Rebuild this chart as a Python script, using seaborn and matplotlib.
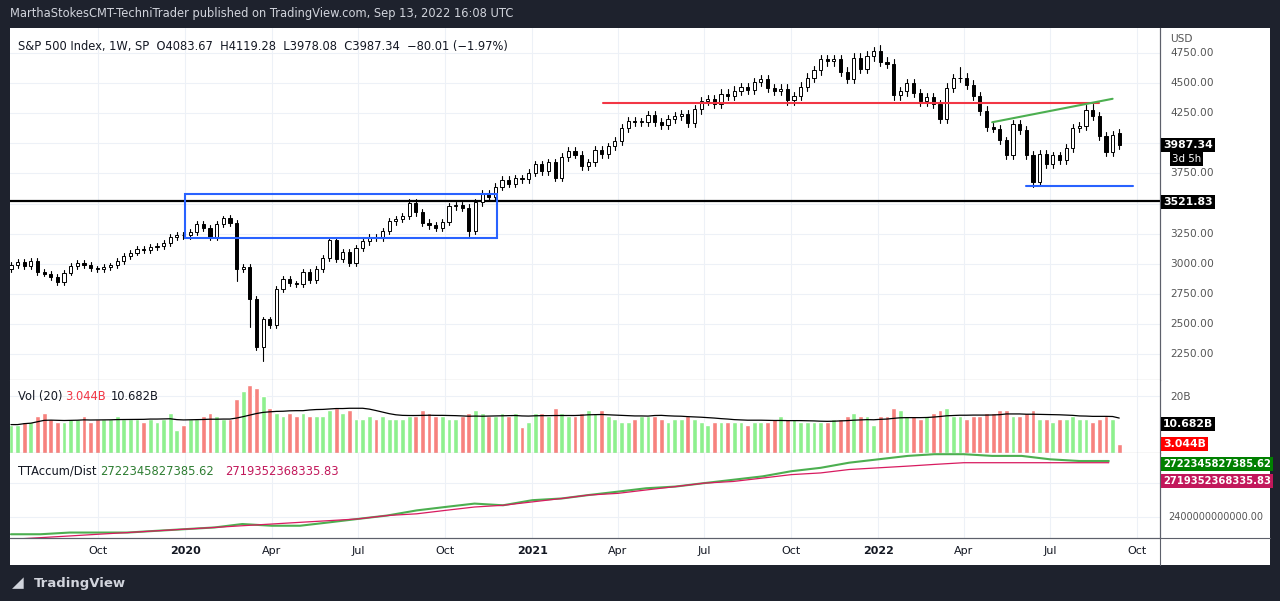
import numpy as np, pandas as pd, matplotlib
matplotlib.use("Agg")
import matplotlib.pyplot as plt, matplotlib.dates as mdates
import seaborn as sns
from matplotlib.patches import Rectangle

sns.set_theme(style="white")
plt.rcParams["font.family"] = "DejaVu Sans"

# weekly closes, Jul 1 2019 .. Sep 12 2022
closes = [2990,3014,2977,3025,2932,2918,2889,2847,2926,2978,3007,2992,2961,2952,2970,2986,3023,3066,3093,3120,3110,3141,3146,3169,3221,3240,3235,
3265,3330,3295,3226,3328,3380,3338,2954,2972,2711,2305,2541,2489,2790,2875,2837,2831,2930,2864,2955,3044,3194,3041,3098,3009,3130,3185,3225,3216,3271,3351,3373,3397,3508,3427,3341,3319,3298,3348,3477,3484,3465,3270,3510,3585,3558,3638,3699,3663,3709,3703,3756,
3825,3768,3841,3714,3887,3934,3907,3811,3842,3943,3913,3975,4020,4129,4185,4180,4181,4233,4174,4156,4204,4230,4247,4166,4281,4352,4370,4327,4412,4395,4437,4468,4442,4509,4535,4458,4433,4455,4357,4391,4471,4545,4605,4697,4682,4698,4595,4538,4712,4620,4725,4766,
4677,4662,4398,4432,4500,4418,4349,4385,4329,4204,4463,4543,4546,4488,4393,4272,4132,4123,4024,3901,4158,4109,3901,3675,3912,3825,3899,3863,3962,4130,4145,4280,4228,4058,3924,4067,3987.34]
first_open = 2955
last_open = 4083.67
# notable wick extremes (week index -> value)
low_overrides = {34: 2856, 36: 2478, 37: 2280, 38: 2192, 69: 3233, 154: 3636}
high_overrides = {32: 3393, 131: 4818, 143: 4637, 163: 4325, 167: 4119.28}
# weekly volume, billions
volume = [10,10,11,11,13,14,12,11,11,12,12,13,11,12,12,12,13,12,12,12,11,12,11,12,14,8,10,
12,12,13,14,13,12,12,19,22,24,23,20,16,14,13,14,13,14,13,13,13,15,16,14,15,12,12,13,12,13,12,12,12,13,13,15,14,13,13,12,12,13,14,15,14,13,13,14,13,14,9,11,
14,14,13,16,14,13,13,14,15,14,15,13,12,11,11,12,13,13,13,12,11,12,12,13,12,11,10,11,11,11,11,11,10,11,11,11,12,13,12,12,11,11,11,11,11,12,12,13,14,13,13,10,
13,13,16,15,13,13,12,13,14,15,16,13,13,12,13,13,14,14,15,15,13,13,14,15,12,12,11,12,12,13,12,12,11,12,13,12,3.044]
# TTAccum/Dist, monthly samples (x1e12)
tt_months = pd.date_range("2019-07-01", "2022-09-01", freq="MS")
tt_green = [2.30,2.30,2.31,2.31,2.31,2.32,2.33,2.34,2.36,2.35,2.35,2.37,2.39,2.41,2.44,2.46,2.48,2.47,2.50,2.51,2.53,2.55,2.57,2.58,2.60,2.62,2.64,2.67,2.69,2.72,2.74,2.76,2.77,2.77,2.76,2.76,2.74,2.73,2.73]
tt_pink = [2.27,2.28,2.29,2.30,2.31,2.32,2.33,2.34,2.35,2.36,2.37,2.38,2.39,2.41,2.42,2.44,2.46,2.47,2.49,2.51,2.53,2.54,2.56,2.58,2.60,2.61,2.63,2.65,2.66,2.68,2.69,2.70,2.71,2.72,2.72,2.72,2.72,2.72,2.72]

n = len(closes)
dates = pd.date_range(end="2022-09-12", periods=n, freq="W-MON")
opens = [first_open] + closes[:-1]
opens[-1] = last_open
highs = [max(o, c) * 1.008 for o, c in zip(opens, closes)]
lows = [min(o, c) * 0.992 for o, c in zip(opens, closes)]
for k, v in low_overrides.items(): lows[k] = v
for k, v in high_overrides.items(): highs[k] = v

W, H = 1280, 601
fig = plt.figure(figsize=(12.8, 6.01), dpi=100, facecolor="#1e222d")
def ax_px(x0, y0, x1, y1):
    return fig.add_axes([x0/W, 1-y1/H, (x1-x0)/W, (y1-y0)/H])
bg = fig.add_axes([10/W, 1-565/H, 1260/W, 537/H]); bg.set_facecolor("white"); bg.set_xticks([]); bg.set_yticks([])
for s in bg.spines.values(): s.set_visible(False)

xl = (mdates.date2num(pd.Timestamp("2019-06-30")), mdates.date2num(pd.Timestamp("2022-10-25")))
axp = ax_px(10, 28, 1160, 380)
axv = ax_px(10, 380, 1160, 453)
axt = ax_px(10, 453, 1160, 538)
grid = "#edf1f7"
qticks = pd.date_range("2019-10-01", "2022-10-01", freq="QS")
for a in (axp, axv, axt):
    a.set_facecolor("white"); a.set_xlim(*xl)
    a.set_xticks(mdates.date2num(qticks)); a.grid(True, color=grid, lw=0.8)
    a.tick_params(length=0, labelbottom=False, labelleft=False, right=False)
    for s in a.spines.values(): s.set_color("#5d606b"); s.set_linewidth(0.8)
    a.spines["left"].set_visible(False); a.spines["top"].set_visible(False)

# price pane
axp.set_ylim(2034, 4958)
axp.set_yticks(np.arange(2250, 4751, 250))
xd = mdates.date2num(dates)
w = 3.3
for i in range(n):
    o, c, hi, lo = opens[i], closes[i], highs[i], lows[i]
    axp.plot([xd[i], xd[i]], [lo, hi], color="black", lw=0.8, zorder=3)
    up = c >= o
    axp.add_patch(Rectangle((xd[i]-w/2, min(o, c)), w, max(abs(c-o), 2), facecolor="white" if up else "black",
                            edgecolor="black", lw=0.7, zorder=4))
axp.axhline(3521.83, color="black", lw=1.6, zorder=2)
d = lambda s: mdates.date2num(pd.Timestamp(s))
axp.add_patch(Rectangle((d("2020-01-01"), 3210), d("2020-11-25")-d("2020-01-01"), 370, fill=False, edgecolor="#2962ff", lw=1.5, zorder=5))
axp.plot([d("2021-03-16"), d("2022-08-22")], [4335, 4335], color="#f23645", lw=1.5, zorder=5)
axp.plot([d("2022-05-01"), d("2022-09-05")], [4175, 4370], color="#4caf50", lw=1.5, zorder=5)
axp.plot([d("2022-06-06"), d("2022-09-26")], [3645, 3645], color="#2962ff", lw=1.5, zorder=5)
axp.text(0.007, 0.965, "S&P 500 Index, 1W, SP  O4083.67  H4119.28  L3978.08  C3987.34  \u221280.01 (\u22121.97%)",
         transform=axp.transAxes, fontsize=8.3, color="#131722", va="top")
for y in np.arange(2250, 4751, 250):
    if y in (3500, 4000):
        continue
    fig.text(1170/W, axp.transData.transform((0, y))[1]/H, f"{y:.2f}", fontsize=7.6, color="#555", va="center")
fig.text(1170/W, 1-39/H, "USD", fontsize=7.6, color="#555", va="center")
def tag(ypx, txt, fc, tc="white", x=1163, fs=7.8):
    fig.text(x/W, 1-ypx/H, txt, fontsize=fs, color=tc, va="center", fontweight="bold",
             bbox=dict(boxstyle="square,pad=0.2", fc=fc, ec="none"))
tag(145, "3987.34", "black")
fig.text(1172/W, 1-159/H, "3d 5h", fontsize=7.4, color="white", va="center", bbox=dict(boxstyle="square,pad=0.15", fc="black", ec="none"))
tag(202, "3521.83", "black")

# volume pane
dfv = pd.DataFrame({"date": dates, "vol": volume, "up": [c >= o for o, c in zip(opens, closes)]})
axv.set_ylim(0, 25.7)
axv.bar(xd, volume, width=5.0, color=["#8ef08e" if u else "#f7827e" for u in dfv["up"]], zorder=2)
dfv["ma"] = dfv["vol"].rolling(20, min_periods=1).mean()
sns.lineplot(x=xd, y=dfv["ma"].values, ax=axv, color="black", lw=0.9, zorder=3)
axv.set_yticks([20]); axv.tick_params(labelleft=False)
axv.set_ylabel(""); axv.set_xlabel("")
axv.text(0.007, 0.86, "Vol (20)", transform=axv.transAxes, fontsize=8.3, color="#131722", va="top")
axv.text(0.048, 0.86, "3.044B", transform=axv.transAxes, fontsize=8.3, color="#f23645", va="top")
axv.text(0.088, 0.86, "10.682B", transform=axv.transAxes, fontsize=8.3, color="#131722", va="top")
fig.text(1170/W, 1-397/H, "20B", fontsize=7.6, color="#555", va="center")
tag(424, "10.682B", "black")
tag(444, "3.044B", "#ff0000")

# TT pane
xt = mdates.date2num(tt_months)
axt.set_ylim(2.278, 2.777)
sns.lineplot(x=xt, y=tt_green, ax=axt, color="#4caf50", lw=1.5)
sns.lineplot(x=xt, y=tt_pink, ax=axt, color="#d81b60", lw=0.9)
axt.set_yticks([2.4, 2.6]); axt.set_ylabel(""); axt.set_xlabel("")
axt.text(0.007, 0.86, "TTAccum/Dist", transform=axt.transAxes, fontsize=8.3, color="#131722", va="top")
axt.text(0.078, 0.86, "2722345827385.62", transform=axt.transAxes, fontsize=8.3, color="#2e7d32", va="top")
axt.text(0.187, 0.86, "2719352368335.83", transform=axt.transAxes, fontsize=8.3, color="#c2185b", va="top")
fig.text(1168/W, 1-517/H, "2400000000000.00", fontsize=7.0, color="#555", va="center")
tag(464, "2722345827385.62", "#008000", fs=7.2)
tag(481, "2719352368335.83", "#c2185b", fs=7.2)

# date labels
for t in qticks:
    lab = str(t.year) if t.month == 1 else t.strftime("%b")
    xp = axt.transData.transform((mdates.date2num(t), 0))[0]
    fig.text(xp/W, 1-551/H, lab, fontsize=8, color="#131722", ha="center", va="center",
             fontweight="bold" if t.month == 1 else "normal")
fig.add_artist(plt.Line2D([1160/W, 1160/W], [1-565/H, 1-28/H], color="#5d606b", lw=0.8))
fig.add_artist(plt.Line2D([10/W, 1270/W], [1-538/H, 1-538/H], color="#5d606b", lw=0.8))

fig.text(10/W, 1-14/H, "MarthaStokesCMT-TechniTrader published on TradingView.com, Sep 13, 2022 16:08 UTC",
         fontsize=8.3, color="#d1d4dc", va="center")
fig.text(34/W, 1-583/H, "TradingView", fontsize=9.5, color="#d1d4dc", va="center", fontweight="bold")
fig.text(12/W, 1-583/H, "\u25E2", fontsize=11, color="#d1d4dc", va="center")
fig.savefig("out.png", dpi=100, facecolor=fig.get_facecolor())
